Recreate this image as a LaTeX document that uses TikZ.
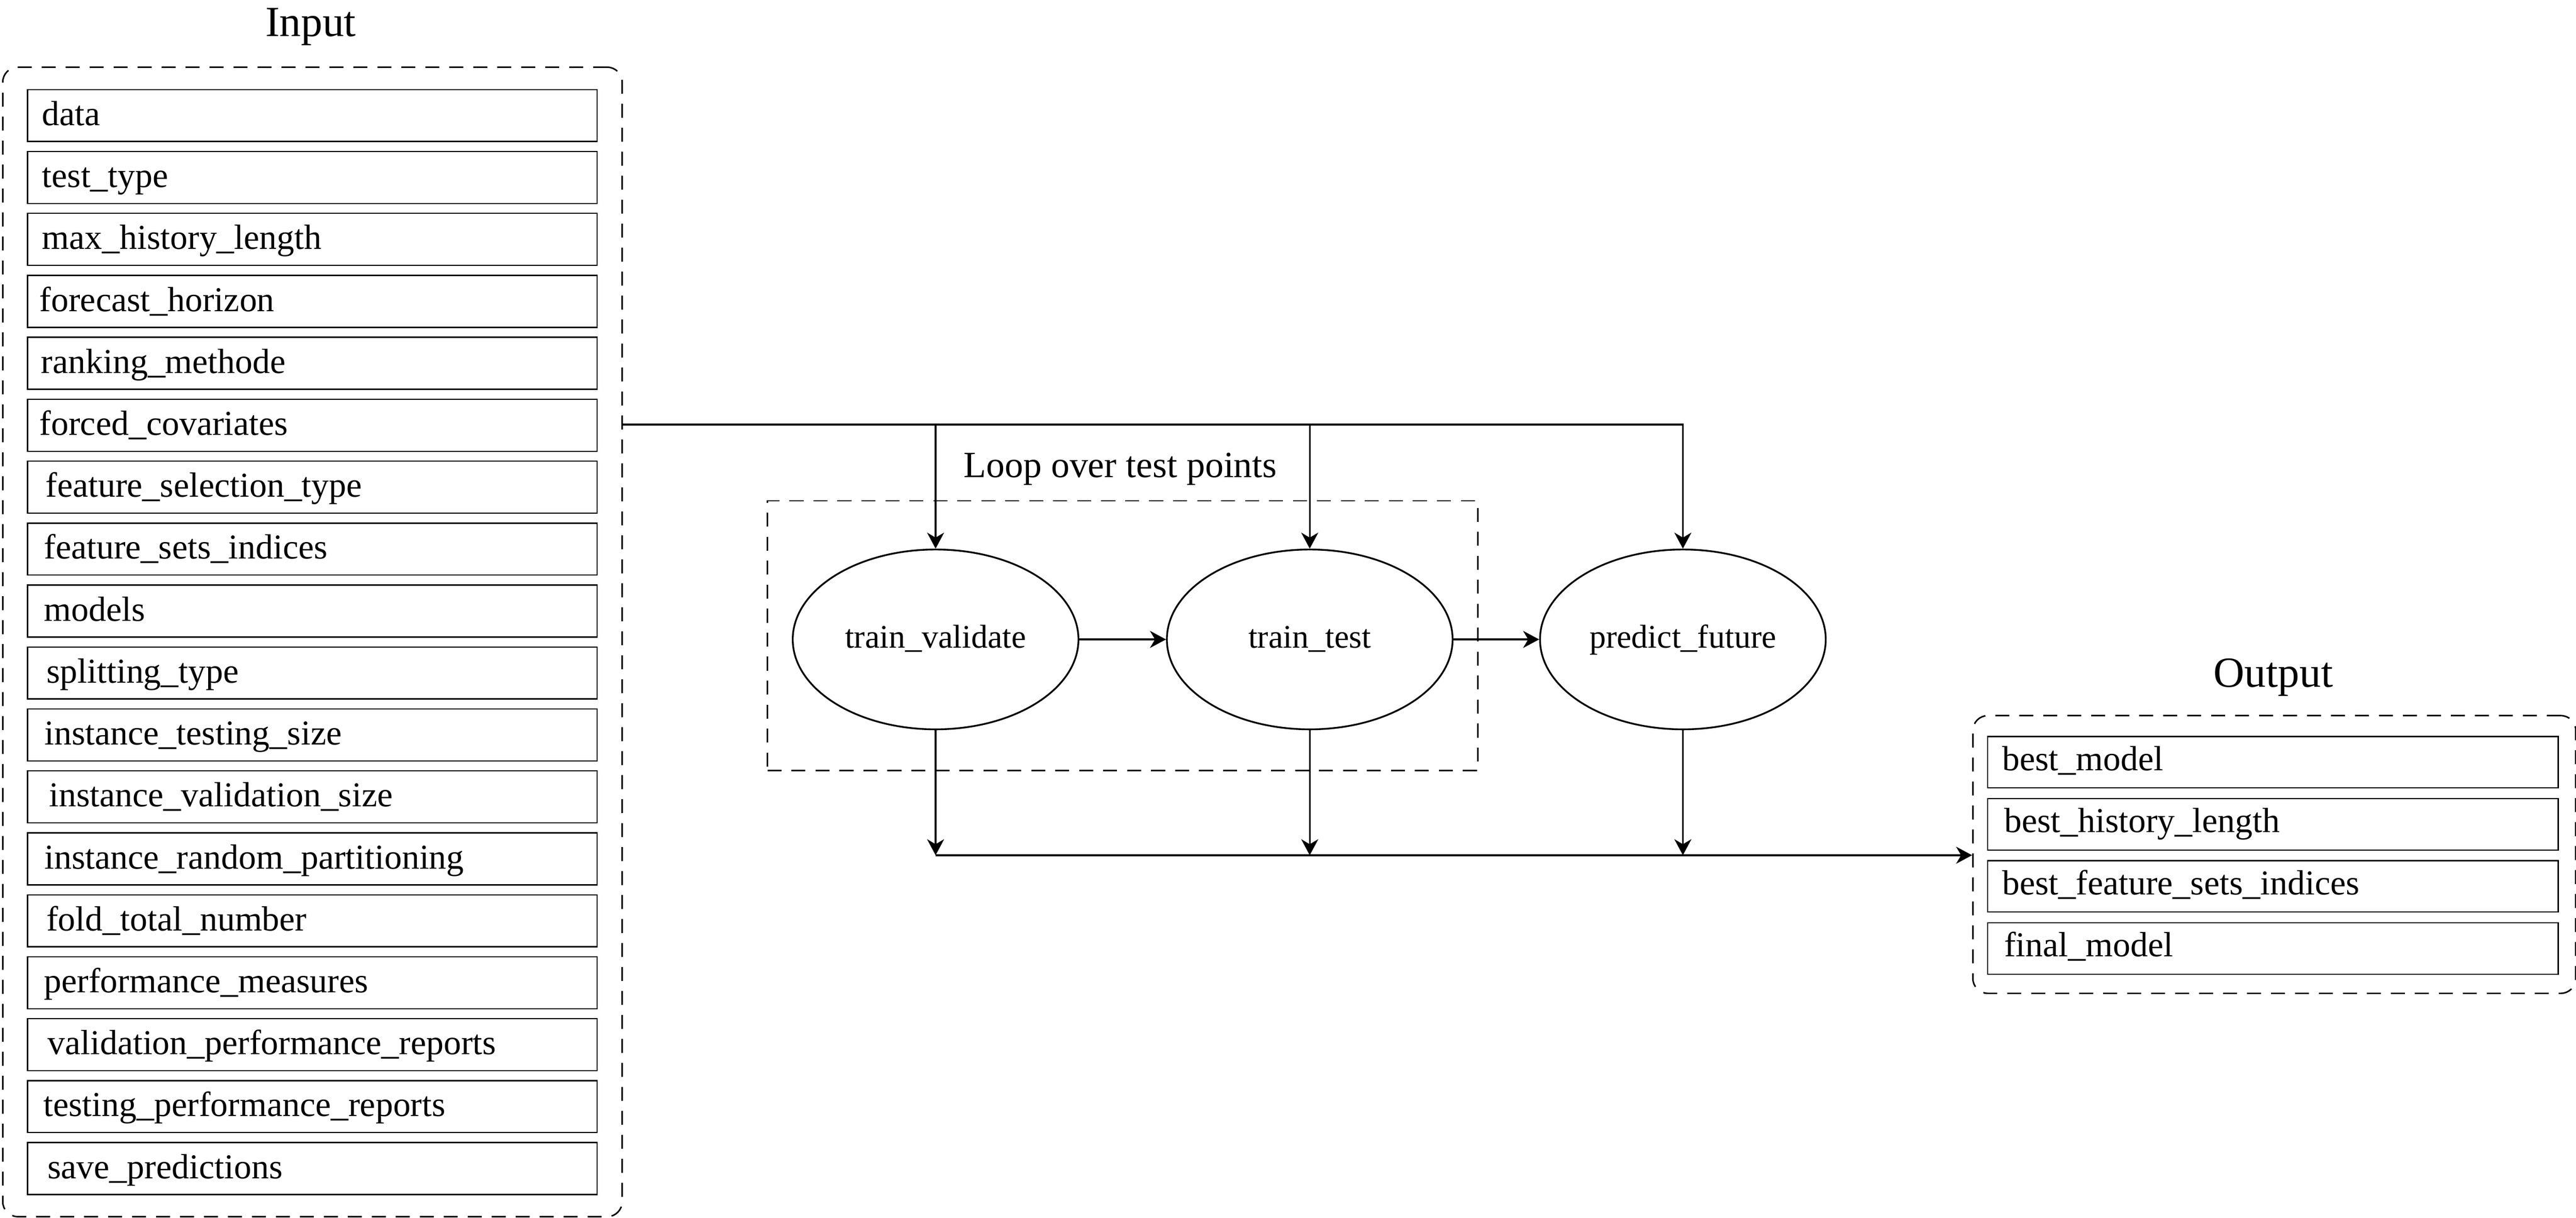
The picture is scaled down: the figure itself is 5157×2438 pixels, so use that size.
\documentclass[tikz,border=0pt]{standalone}
\usepackage{fontspec}
\setmainfont{Liberation Serif}
\usetikzlibrary{arrows.meta,calc,shapes.geometric}
\begin{document}
\begin{tikzpicture}[x=1pt,y=-1pt,
  conn/.style={line width=3.5pt,-{Stealth[length=32pt,width=34pt,inset=10pt]}},
  rbox/.style={draw,line width=2.5pt,minimum height=104pt,anchor=north west,inner sep=0pt},
  lbl/.style={font=\fontsize{70}{84}\selectfont,anchor=base west,inner sep=0pt},
  ttl/.style={font=\fontsize{86}{100}\selectfont,anchor=base,inner sep=0pt},
  grp/.style={draw,line width=3pt,dash pattern=on 28pt off 20pt,rounded corners=30pt,anchor=north west,inner sep=0pt},
  loopbox/.style={draw,line width=3pt,dash pattern=on 28pt off 20pt,anchor=north west,inner sep=0pt},
  ell/.style={draw,ellipse,line width=3.5pt,minimum width=572pt,minimum height=360pt,inner sep=0pt},
  etxt/.style={font=\fontsize{66}{80}\selectfont,anchor=base,inner sep=0pt}]
\useasboundingbox (0,0) rectangle (5157,2438);

% Input group
\node[ttl] (intitle) at (622,73) {Input};
\node[grp,minimum width=1240pt,minimum height=2301pt] (inbox) at (4,133) {};
\foreach \t/\dx [count=\i from 0] in {data/30,test\_type/30,max\_history\_length/30,forecast\_horizon/25,ranking\_methode/28,forced\_covariates/25,feature\_selection\_type/37,feature\_sets\_indices/34,models/34,splitting\_type/39,instance\_testing\_size/35,instance\_validation\_size/44,instance\_random\_partitioning/35,fold\_total\_number/39,performance\_measures/34,validation\_performance\_reports/41,testing\_performance\_reports/33,save\_predictions/41}{
  \node[rbox,minimum width=1140pt] (in\i) at (54,178+124*\i) {};
  \node[lbl] (int\i) at ($(in\i.north west)+(\dx,73)$) {\t};
}

% Loop box
\node[loopbox,minimum width=1422pt,minimum height=540pt] (loop) at (1535,1001) {};
\node[etxt,font=\fontsize{74}{88}\selectfont] (looplbl) at (2243,956) {Loop over test points};

% Ellipses
\node[ell] (tv) at (1873,1280) {};
\node[etxt] (tvt) at (1873,1297) {train\_validate};
\node[ell] (tt) at (2622,1280) {};
\node[etxt] (ttt) at (2622,1297) {train\_test};
\node[ell] (pf) at (3369,1280) {};
\node[etxt] (pft) at (3369,1297) {predict\_future};

% Output group
\node[ttl] (outtitle) at (4551,1375) {Output};
\node[grp,minimum width=1207pt,minimum height=556pt] (outbox) at (3948,1431) {};
\foreach \t/\dx [count=\i from 0] in {best\_model/30,best\_history\_length/34,best\_feature\_sets\_indices/30,final\_model/34}{
  \node[rbox,minimum width=1142pt,minimum height=103pt] (out\i) at (3978,1473+124.3*\i) {};
  \node[lbl] (outt\i) at ($(out\i.north west)+(\dx,69)$) {\t};
}

% Connectors
\coordinate (tstart) at (inbox.east |- 0,850);
\coordinate (bstart) at (1873,1712);
\draw[conn] (tstart) -| (pf.north);
\draw[conn] (tv.north |- tstart) -- (tv.north);
\draw[conn] (tt.north |- tstart) -- (tt.north);
\draw[conn] (tv.east) -- (tt.west);
\draw[conn] (tt.east) -- (pf.west);
\draw[conn] (tv.south) -- (tv.south |- bstart);
\draw[conn] (tt.south) -- (tt.south |- bstart);
\draw[conn] (pf.south) -- (pf.south |- bstart);
\draw[conn] (bstart) -- (outbox.west |- bstart);
\end{tikzpicture}
\end{document}
